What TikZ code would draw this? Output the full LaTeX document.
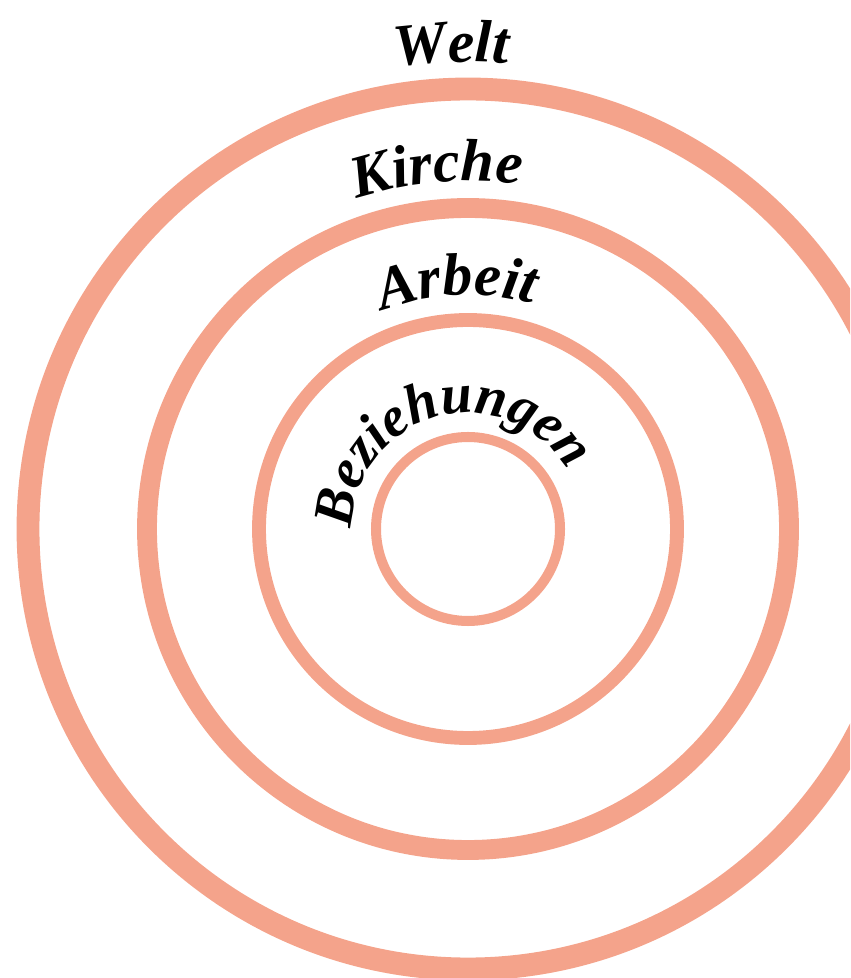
\documentclass[tikz,border=0pt]{standalone}
\usepackage{fontspec}
\setmainfont{Liberation Serif}
\usepackage{tikz}
\usetikzlibrary{calc,decorations.text}
\definecolor{lachs}{HTML}{F4A38B}
\newcommand{\gross}{\bfseries\itshape\fontsize{34}{40}\selectfont}
\newcommand{\klein}{\bfseries\itshape\fontsize{32}{38}\selectfont}

\begin{document}
\begin{tikzpicture}[
    x=0.02cm, y=0.02cm,
    ring/.style={draw=lachs},
    bogentext/.style={decorate, decoration={text along path, text align=center, text={#1}}}
]
\clip (0,0) rectangle (850,978);
\coordinate (mitte) at (468,449);

% Ringe
\draw[ring, line width=13pt] (mitte) circle[radius=440];
\draw[ring, line width=11.3pt] (mitte) circle[radius=321];
\draw[ring, line width=7.9pt] (mitte) circle[radius=209];
\draw[ring, line width=5.7pt] (mitte) circle[radius=92];

% Beschriftungen
\path[bogentext={|\gross|Welt}] ($(mitte)+(162:467)$) arc[start angle=162, end angle=22, radius=467];
\path[bogentext={|\gross|Kirche}] ($(mitte)+(165:348)$) arc[start angle=165, end angle=25, radius=348];
\path[bogentext={|\gross|Arbeit}] ($(mitte)+(162.7:234)$) arc[start angle=162.7, end angle=22.7, radius=234];
\path[bogentext={|\klein|Beziehungen}] ($(mitte)+(190:116)$) arc[start angle=190, end angle=20, radius=116];
\end{tikzpicture}
\end{document}
